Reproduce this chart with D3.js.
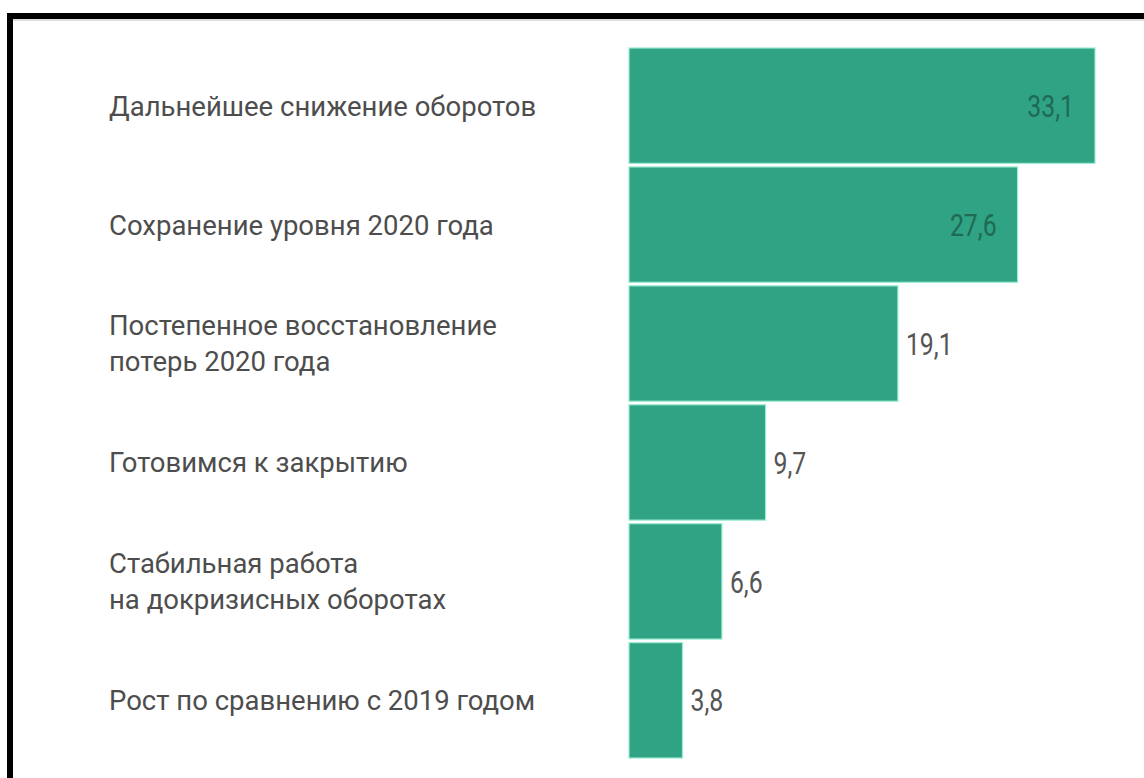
<!DOCTYPE html>
<html>
<head>
<meta charset="utf-8">
<script src="https://cdn.jsdelivr.net/npm/d3@7/dist/d3.min.js"></script>
<style>
  html, body { margin: 0; padding: 0; background: #fff; }
  svg { display: block; }
</style>
</head>
<body>
<svg id="chart" width="1144" height="778"></svg>
<script>
// Survey answers: expected business dynamics
const categories = [
  "Дальнейшее снижение оборотов",
  "Сохранение уровня 2020 года",
  "Постепенное восстановление\nпотерь 2020 года",
  "Готовимся к закрытию",
  "Стабильная работа\nна докризисных оборотах",
  "Рост по сравнению с 2019 годом"
];
const values = [33.1, 27.6, 19.1, 9.7, 6.6, 3.8];
const valueLabels = ["33,1", "27,6", "19,1", "9,7", "6,6", "3,8"];
// bars at least this wide carry their value inside
const insideThreshold = 25;

const W = 1144, H = 778;
const svg = d3.select("#chart");

// frame lines along the top and left edges
svg.append("line").attr("x1", 7).attr("x2", W).attr("y1", 16).attr("y2", 16)
  .attr("stroke", "#000").attr("stroke-width", 6);
svg.append("line").attr("x1", 10).attr("x2", 10).attr("y1", 13).attr("y2", H)
  .attr("stroke", "#000").attr("stroke-width", 6);
svg.append("line").attr("x1", 13).attr("x2", W).attr("y1", 20).attr("y2", 20)
  .attr("stroke", "#bbb").attr("stroke-width", 1);

const data = categories.map((c, i) => ({ c, v: values[i], t: valueLabels[i] }));

const y = d3.scaleBand()
  .domain(categories)
  .range([48, 758])
  .paddingInner(0.03)
  .paddingOuter(0);

const x = d3.scaleLinear()
  .domain([0, d3.max(values)])
  .range([629, 1095]);

const fontStack = "Roboto, 'Liberation Sans', 'DejaVu Sans', sans-serif";

// bars
svg.append("g").selectAll("rect")
  .data(data).join("rect")
  .attr("x", x(0))
  .attr("y", d => y(d.c))
  .attr("width", d => x(d.v) - x(0))
  .attr("height", y.bandwidth())
  .attr("fill", "#2fa383")
  .attr("stroke", "#9cecd3")
  .attr("stroke-width", 1.2);

// value labels: condensed digits, inside long bars, outside short ones
const vl = svg.append("g").selectAll("g")
  .data(data).join("g")
  .attr("transform", d => {
    const cy = y(d.c) + y.bandwidth() / 2;
    const inside = d.v >= insideThreshold;
    const tx = inside ? x(d.v) - 21 : x(d.v) + 8;
    return `translate(${tx},${cy}) scale(0.8,1)`;
  });
vl.append("text")
  .attr("text-anchor", d => d.v >= insideThreshold ? "end" : "start")
  .attr("dy", "0.36em")
  .attr("font-family", fontStack)
  .attr("font-size", 31)
  .attr("fill", d => d.v >= insideThreshold ? "#1f6a53" : "#555")
  .text(d => d.t);

// category labels, wrapped where the source text has a line break
const lineGap = 36;
const cl = svg.append("g").selectAll("text")
  .data(data).join("text")
  .attr("font-family", fontStack)
  .attr("font-size", 27.5)
  .attr("fill", "#4d4d4d")
  .attr("transform", d => `translate(109,${y(d.c) + y.bandwidth() / 2})`);
cl.each(function(d) {
  const lines = d.c.split("\n");
  const t = d3.select(this);
  lines.forEach((ln, i) => {
    t.append("tspan")
      .attr("x", 0)
      .attr("y", (i - (lines.length - 1) / 2) * lineGap)
      .attr("dy", "0.36em")
      .text(ln);
  });
});
</script>
</body>
</html>
